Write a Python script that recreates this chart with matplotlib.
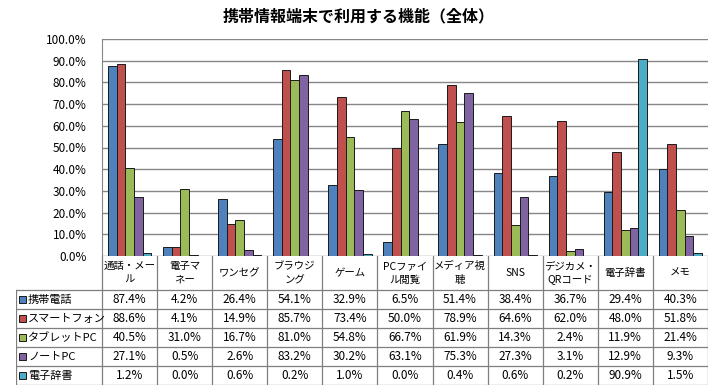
import matplotlib.pyplot as plt
import matplotlib.patches as mpatches
import numpy as np

plt.rcParams['font.family'] = ['Noto Sans CJK JP', 'DejaVu Sans']

categories = ['通話・メー\nル', '電子マ\nネー', 'ワンセグ', 'ブラウジ\nング', 'ゲーム',
              'PCファイ\nル閲覧', 'メディア視\n聴', 'SNS', 'デジカメ・\nQRコード', '電子辞書', 'メモ']
series_names = ['携帯電話', 'スマートフォン', 'タブレットPC', 'ノートPC', '電子辞書']
keitai = [87.4, 4.2, 26.4, 54.1, 32.9, 6.5, 51.4, 38.4, 36.7, 29.4, 40.3]
smartphone = [88.6, 4.1, 14.9, 85.7, 73.4, 50.0, 78.9, 64.6, 62.0, 48.0, 51.8]
tablet = [40.5, 31.0, 16.7, 81.0, 54.8, 66.7, 61.9, 14.3, 2.4, 11.9, 21.4]
notepc = [27.1, 0.5, 2.6, 83.2, 30.2, 63.1, 75.3, 27.3, 3.1, 12.9, 9.3]
jisho = [1.2, 0.0, 0.6, 0.2, 1.0, 0.0, 0.4, 0.6, 0.2, 90.9, 1.5]
series = [keitai, smartphone, tablet, notepc, jisho]
colors = ['#4F81BD', '#C0504D', '#9BBB59', '#8064A2', '#4BACC6']

W, H = 718, 390
fig = plt.figure(figsize=(W / 100, H / 100), dpi=100)

def px_rect(x0, y0, x1, y1):
    return [x0 / W, 1 - y1 / H, (x1 - x0) / W, (y1 - y0) / H]

# bar chart
ax = fig.add_axes(px_rect(102, 39, 708, 256))
n = len(categories)
x = np.arange(n)
bw = 0.157
for i, (vals, c) in enumerate(zip(series, colors)):
    ax.bar(x + (i - 2) * bw, vals, bw, color=c, edgecolor='#1a1a1a', linewidth=0.7, zorder=3)
ax.set_xlim(-0.5, n - 0.5)
ax.set_ylim(0, 100)
ax.set_yticks(np.arange(0, 101, 10))
ax.set_yticklabels([f'{v:.1f}%' for v in np.arange(0, 101, 10)], fontsize=8.5)
ax.tick_params(axis='y', length=0, pad=11)
ax.set_xticks([])
ax.grid(axis='y', color='#868686', linewidth=1.0, zorder=0)
for s in ['top', 'right', 'bottom']:
    ax.spines[s].set_visible(False)
ax.spines['left'].set_color('#868686')

fig.text(0.5, 1 - 16 / H, '携帯情報端末で利用する機能（全体）', ha='center', va='center',
         fontsize=11.5, fontweight='bold')

# data table
left_px, right_px = 16, 708
cat_w = (708 - 102) / n
lead = (102 - left_px) / cat_w
tax = fig.add_axes(px_rect(left_px, 256, right_px, 385))
tax.set_xlim(-0.5 - lead, n - 0.5)
tax.set_ylim(385, 256)
tax.axis('off')
row_tops = [290, 309, 328, 347, 366, 385]
lc = '#7f7f7f'
# vertical lines
for k in range(n + 1):
    tax.plot([k - 0.5, k - 0.5], [256, 385], color=lc, lw=0.9)
tax.plot([-0.5 - lead, -0.5 - lead], [290, 385], color=lc, lw=0.9)
for y in row_tops:
    tax.plot([-0.5 - lead, n - 0.5], [y, y], color=lc, lw=0.9)
for k, cat in enumerate(categories):
    tax.text(k, 273, cat, ha='center', va='center', fontsize=7.5, linespacing=1.5)
for r, (name, vals, c) in enumerate(zip(series_names, series, colors)):
    yc = (row_tops[r] + row_tops[r + 1]) / 2
    x0 = -0.5 - lead + 0.05
    tax.add_patch(mpatches.Rectangle((x0, yc - 3.5), 0.13, 7, facecolor=c,
                                     edgecolor='#1a1a1a', lw=0.7))
    tax.text(x0 + 0.17, yc, name, ha='left', va='center', fontsize=8)
    for k, v in enumerate(vals):
        tax.text(k, yc, f'{v:.1f}%', ha='center', va='center', fontsize=8.5)

fig.savefig('out.png', dpi=100)
